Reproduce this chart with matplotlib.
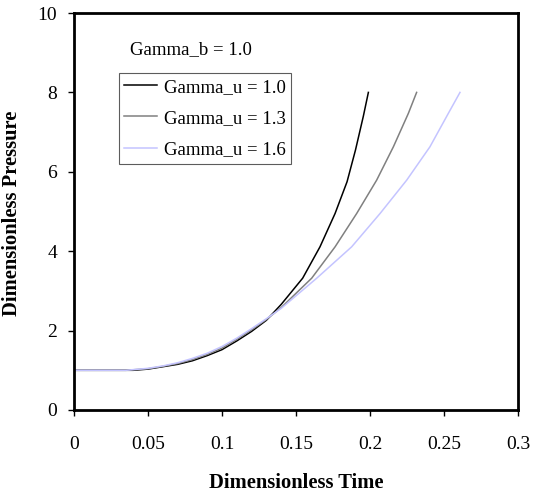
import matplotlib
matplotlib.use('Agg')
import matplotlib.pyplot as plt

# values
t_gu10 = [0, 0.04, 0.05, 0.06, 0.07, 0.08, 0.09, 0.10, 0.11, 0.12, 0.13, 0.14,
          0.1545, 0.1662, 0.1764, 0.1845, 0.1902, 0.1955, 0.1989]
p_gu10 = [1.0, 1.0, 1.03, 1.09, 1.15, 1.24, 1.37, 1.52, 1.74, 1.98, 2.26, 2.66,
          3.32, 4.11, 4.95, 5.75, 6.55, 7.40, 8.0]

t_gu13 = [0, 0.035, 0.05, 0.06, 0.07, 0.08, 0.09, 0.10, 0.11, 0.12, 0.13, 0.14,
          0.1606, 0.1764, 0.191, 0.2045, 0.2158, 0.2259, 0.2315]
p_gu13 = [1.0, 1.0, 1.04, 1.10, 1.17, 1.27, 1.40, 1.56, 1.78, 2.02, 2.28, 2.58,
          3.32, 4.11, 4.95, 5.79, 6.63, 7.47, 8.0]

t_gu16 = [0, 0.035, 0.05, 0.06, 0.07, 0.08, 0.09, 0.10, 0.11, 0.12, 0.13, 0.14,
          0.164, 0.1876, 0.2068, 0.2248, 0.2405, 0.2529, 0.2608]
p_gu16 = [1.0, 1.0, 1.05, 1.11, 1.19, 1.30, 1.43, 1.60, 1.81, 2.05, 2.30, 2.56,
          3.32, 4.11, 4.95, 5.79, 6.63, 7.47, 8.0]

labels = ['Gamma_u = 1.0', 'Gamma_u = 1.3', 'Gamma_u = 1.6']
colors = ['#000000', '#808080', '#c4c4ff']

x_ticks = [0, 0.05, 0.1, 0.15, 0.2, 0.25, 0.3]
x_ticklabels = ['0', '0.05', '0.1', '0.15', '0.2', '0.25', '0.3']
y_ticks = [0, 2, 4, 6, 8, 10]

plt.rcParams['font.family'] = ['Liberation Serif', 'DejaVu Serif']

fig = plt.figure(figsize=(5.33, 4.92), dpi=100)
ax = fig.add_axes([74 / 533, 1 - 410 / 492, 444 / 533, 397 / 492])

series = [(t_gu10, p_gu10), (t_gu13, p_gu13), (t_gu16, p_gu16)]
for (t, p), lab, c in zip(series, labels, colors):
    ax.plot(t, p, color=c, lw=1.1, label=lab)

ax.set_xlim(0, 0.3)
ax.set_ylim(0, 10)
ax.set_xticks(x_ticks)
ax.set_xticklabels(x_ticklabels)
ax.set_yticks(y_ticks)
ax.tick_params(axis='x', direction='out', length=4, width=1, pad=15, labelsize=14)
ax.tick_params(axis='y', direction='out', length=4, width=1, pad=8, labelsize=14)
for s in ax.spines.values():
    s.set_linewidth(2)

ax.set_xlabel('Dimensionless Time', fontsize=14.8, fontweight='bold')
ax.set_ylabel('Dimensionless Pressure', fontsize=14.8, fontweight='bold')
ax.xaxis.set_label_coords(0.5, -0.158)
ax.yaxis.set_label_coords(-0.118, 0.495)

ax.text(0.126, 0.907, 'Gamma_b = 1.0', transform=ax.transAxes, fontsize=13.5,
        va='center', ha='left')

leg = ax.legend(loc='upper left', bbox_to_anchor=(0.101, 0.849), fontsize=13.5,
                frameon=True, fancybox=False, borderpad=0.3, labelspacing=0.75,
                handlelength=1.75, handletextpad=0.35, borderaxespad=0)
leg.get_frame().set_edgecolor('#333333')
leg.get_frame().set_linewidth(0.8)

fig.savefig('out.png', dpi=100)
